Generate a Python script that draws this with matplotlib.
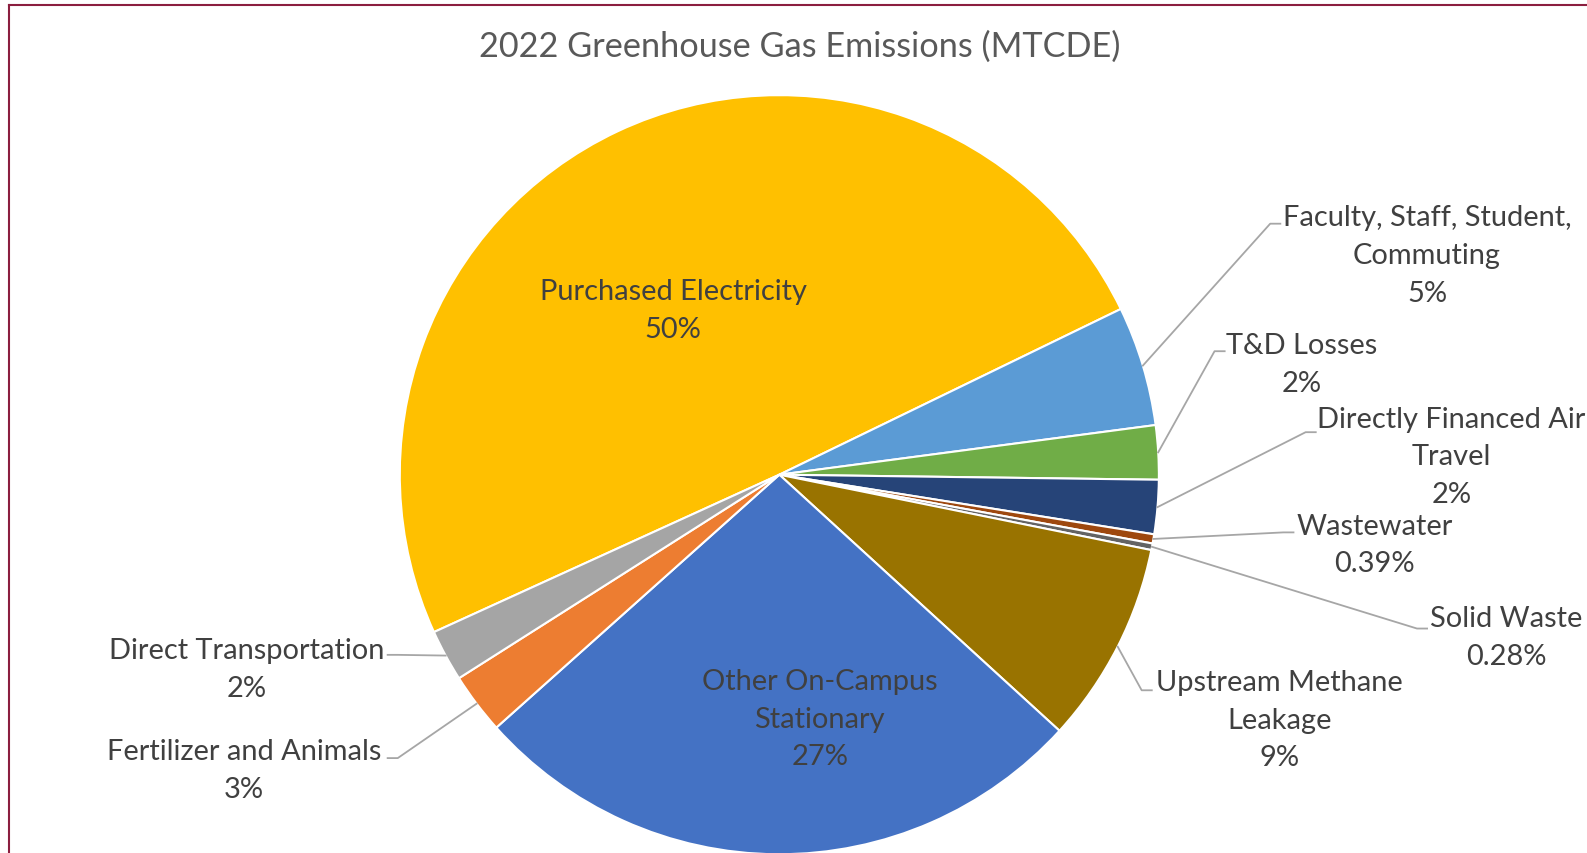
import matplotlib
matplotlib.use("Agg")
import matplotlib.pyplot as plt
from matplotlib.lines import Line2D
import numpy as np

plt.rcParams['font.family'] = ['Lato', 'DejaVu Sans']

# data (share of total emissions, percent) - clockwise from Purchased Electricity
categories = ["Purchased Electricity", "Faculty, Staff, Student,\nCommuting", "T&D Losses",
              "Directly Financed Air\nTravel", "Wastewater", "Solid Waste",
              "Upstream Methane\nLeakage", "Other On-Campus\nStationary",
              "Fertilizer and Animals", "Direct Transportation"]
values = [49.6, 5.1, 2.3, 2.3, 0.39, 0.28, 8.6, 26.6, 2.6, 2.2]
pct_labels = ["50%", "5%", "2%", "2%", "0.39%", "0.28%", "9%", "27%", "3%", "2%"]
colors = ["#FFC000", "#5B9BD5", "#70AD47", "#264478", "#9E480E", "#636363",
          "#997300", "#4472C4", "#ED7D31", "#A5A5A5"]

W, H = 1568, 854 * 1568 / 1587   # layout units (top-down y)
cx, cy, R = 770, 470, 375

def px(x, y):
    return x, H - y

# label block centres and leader-line ends (None = label inside the slice)
label_pos = [(665, 307), (1410, 253), (1286, 361), (1434, 452), (1358, 539),
             (1488, 630), (1264, 712), (810, 711), (241, 762), (244, 662)]
leader_end = [None, (1265, 222), (1210, 348), (1300, 428), (1278, 527),
              (1410, 622), (1138, 683), None, (383, 750), (383, 648)]

fig = plt.figure(figsize=(15.87, 8.54), dpi=100)
ax = fig.add_axes([0, 0, 1, 1])

wedges, _ = ax.pie(values, colors=colors, startangle=204.5, counterclock=False,
                   radius=R, center=px(cx, cy), frame=True,
                   wedgeprops=dict(edgecolor="white", linewidth=1.5))
ax.set_xlim(0, W)
ax.set_ylim(0, H)
ax.set_aspect("equal")
ax.axis("off")

txt_color = "#404040"
for i, w in enumerate(wedges):
    lx, ly = px(*label_pos[i])
    ax.text(lx, ly, categories[i] + "\n" + pct_labels[i], ha="center", va="center",
            fontsize=20.9, color=txt_color, linespacing=1.56)
    if leader_end[i] is not None:
        ang = np.deg2rad((w.theta1 + w.theta2) / 2)
        sx = cx + R * np.cos(ang)
        sy = H - cy + R * np.sin(ang)
        ex, ey = px(*leader_end[i])
        side = 1 if ex > cx else -1
        ax.plot([sx, ex - 10 * side, ex], [sy, ey, ey], color="#A6A6A6", lw=1.3,
                zorder=3)

ax.text(W / 2 + 6, H - 46, "2022 Greenhouse Gas Emissions (MTCDE)", ha="center",
        va="center", fontsize=24.7, color="#595959")

# maroon frame edges (top and left visible in the source)
fig.add_artist(Line2D([9 / 1587, 1], [1 - 6 / 854, 1 - 6 / 854], color="#8B1E3F", lw=1.5))
fig.add_artist(Line2D([9 / 1587, 9 / 1587], [0, 1 - 6 / 854], color="#8B1E3F", lw=1.5))

fig.savefig("out.png", dpi=100)
